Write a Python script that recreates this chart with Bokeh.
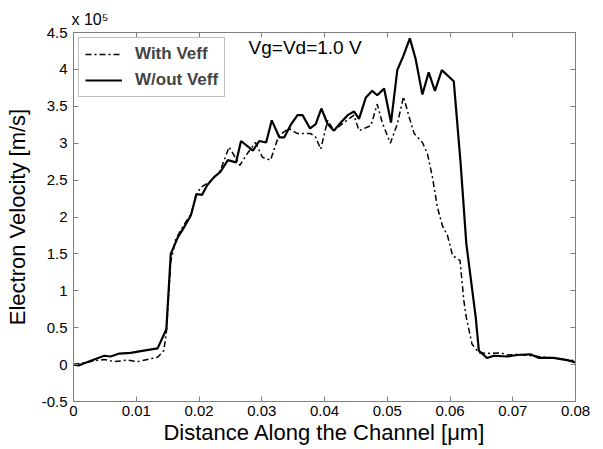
from bokeh.plotting import figure
from bokeh.models import Range1d, LinearAxis, FixedTicker, Label, Legend, LegendItem
from bokeh.embed import file_html
from bokeh.resources import INLINE

# Distance along channel (um) and velocity (x1e5 m/s)
x_without = [0, 0.0009, 0.0033, 0.0049, 0.0059, 0.0073, 0.0091, 0.0112, 0.0134, 0.0148,
             0.0155, 0.0166, 0.0176, 0.0187, 0.0196, 0.0205, 0.0213, 0.0224, 0.0234, 0.0246,
             0.0259, 0.0267, 0.0286, 0.0296, 0.0307, 0.0316, 0.0328, 0.0336, 0.0347, 0.0357,
             0.0365, 0.0377, 0.0386, 0.0395, 0.0405, 0.0415, 0.0426, 0.0437, 0.0447, 0.0455,
             0.0466, 0.0476, 0.0484, 0.0495, 0.0506, 0.0516, 0.0526, 0.0536, 0.0545, 0.0556,
             0.0566, 0.0576, 0.0587, 0.0606, 0.0617, 0.0626, 0.0641, 0.0646, 0.0659, 0.0670,
             0.0691, 0.0707, 0.0728, 0.0742, 0.0765, 0.0787, 0.0800]
v_without = [0, -0.01, 0.07, 0.12, 0.11, 0.15, 0.16, 0.19, 0.22, 0.48,
             1.50, 1.72, 1.86, 2.02, 2.31, 2.30, 2.43, 2.54, 2.61, 2.77,
             2.74, 3.03, 2.90, 3.03, 3.01, 3.31, 3.08, 3.08, 3.26, 3.38,
             3.38, 3.20, 3.26, 3.47, 3.26, 3.17, 3.28, 3.38, 3.43, 3.33,
             3.62, 3.71, 3.65, 3.74, 3.28, 3.99, 4.19, 4.42, 4.15, 3.66,
             3.96, 3.71, 3.99, 3.84, 2.72, 1.64, 0.64, 0.19, 0.09, 0.12,
             0.11, 0.13, 0.14, 0.09, 0.09, 0.06, 0.03]

x_with = [0, 0.0033, 0.0049, 0.0065, 0.0086, 0.0102, 0.0118, 0.0134, 0.0144, 0.0148,
          0.0155, 0.0163, 0.0175, 0.0188, 0.0195, 0.0203, 0.0219, 0.0234, 0.0248, 0.0265,
          0.0277, 0.0290, 0.0301, 0.0314, 0.0327, 0.0343, 0.0357, 0.0378, 0.0386, 0.0394,
          0.0405, 0.0415, 0.0431, 0.0447, 0.0455, 0.0474, 0.0484, 0.0492, 0.0505, 0.0516,
          0.0526, 0.0535, 0.0543, 0.0556, 0.0564, 0.0572, 0.0580, 0.0588, 0.0596, 0.0604,
          0.0616, 0.0622, 0.0626, 0.0635, 0.0646, 0.0665, 0.0681, 0.0691, 0.0710, 0.0730,
          0.0765, 0.0800]
v_with = [0, 0.05, 0.07, 0.04, 0.06, 0.04, 0.07, 0.10, 0.19, 0.44,
          1.40, 1.70, 1.88, 2.05, 2.30, 2.40, 2.49, 2.63, 2.95, 2.70,
          2.86, 3.01, 2.81, 2.77, 3.10, 3.20, 3.13, 3.13, 3.08, 2.92,
          3.31, 3.17, 3.28, 3.38, 3.17, 3.24, 3.53, 3.28, 3.00, 3.26,
          3.63, 3.35, 3.13, 3.01, 2.86, 2.54, 2.13, 1.88, 1.75, 1.48,
          1.41, 0.87, 0.64, 0.28, 0.16, 0.15, 0.16, 0.13, 0.14, 0.12,
          0.09, 0.05]

x_ticks = [0, 0.01, 0.02, 0.03, 0.04, 0.05, 0.06, 0.07, 0.08]
x_tick_labels = ["0", "0.01", "0.02", "0.03", "0.04", "0.05", "0.06", "0.07", "0.08"]
y_ticks = [-0.5, 0, 0.5, 1, 1.5, 2, 2.5, 3, 3.5, 4, 4.5]
y_tick_labels = ["-0.5", "0", "0.5", "1", "1.5", "2", "2.5", "3", "3.5", "4", "4.5"]
multiplier_text = "x 10\u2075"

FONT = "Liberation Sans"
GRAY = "#808080"

p = figure(width=603, height=449, output_backend="svg", toolbar_location=None,
           x_range=Range1d(0, 0.08), y_range=Range1d(-0.5, 4.5),
           min_border_left=73, min_border_right=28, min_border_top=32, min_border_bottom=48)
p.background_fill_color = "white"
p.border_fill_color = "white"
p.grid.visible = False
p.outline_line_color = GRAY

p.title.text = multiplier_text
p.title.align = "left"
p.title.text_font = FONT
p.title.text_font_size = "16px"
p.title.text_font_style = "normal"
p.title.text_color = "black"
p.title.offset = -2
p.title.standoff = 10

for ax in (p.xaxis[0], p.yaxis[0]):
    ax.major_tick_in = 5
    ax.major_tick_out = 0
    ax.minor_tick_line_color = None
    ax.axis_line_color = GRAY
    ax.major_tick_line_color = GRAY
    ax.major_label_text_font = FONT
    ax.major_label_text_font_size = "15px"
    ax.major_label_text_color = "black"
    ax.axis_label_text_font = FONT
    ax.axis_label_text_font_size = "22px"
    ax.axis_label_text_font_style = "normal"
    ax.axis_label_text_color = "black"

p.xaxis[0].ticker = FixedTicker(ticks=x_ticks)
p.xaxis[0].major_label_overrides = dict(zip(x_ticks, x_tick_labels))
p.xaxis[0].axis_label = "Distance Along the Channel [\u03bcm]"
p.xaxis[0].major_label_standoff = 4
p.xaxis[0].axis_label_standoff = 1

p.yaxis[0].ticker = FixedTicker(ticks=y_ticks)
p.yaxis[0].major_label_overrides = dict(zip(y_ticks, y_tick_labels))
p.yaxis[0].axis_label = "Electron Velocity [m/s]"
p.yaxis[0].major_label_standoff = 6
p.yaxis[0].axis_label_standoff = 9

top = LinearAxis(ticker=FixedTicker(ticks=x_ticks),
                 major_label_overrides={t: "" for t in x_ticks},
                 major_label_standoff=0, major_label_text_font_size="8px",
                 major_tick_in=5, major_tick_out=0, minor_tick_line_color=None,
                 axis_line_color=GRAY, major_tick_line_color=GRAY)
right = LinearAxis(ticker=FixedTicker(ticks=y_ticks),
                   major_label_overrides={t: "" for t in y_ticks},
                   major_tick_in=5, major_tick_out=0, minor_tick_line_color=None,
                   axis_line_color=GRAY, major_tick_line_color=GRAY)
p.add_layout(top, "above")
p.add_layout(right, "right")

r_with = p.line(x_with, v_with, line_color="black", line_width=1.5, line_dash="6 3 2 3")
r_without = p.line(x_without, v_without, line_color="black", line_width=2.2)

legend = Legend(items=[LegendItem(label="With Veff", renderers=[r_with]),
                       LegendItem(label="W/out Veff", renderers=[r_without])],
                location="top_left")
legend.label_text_font = FONT
legend.label_text_font_size = "17px"
legend.label_text_font_style = "bold"
legend.glyph_width = 37
legend.glyph_height = 14
legend.label_height = 14
legend.label_standoff = 13
legend.spacing = 6
legend.padding = 6
legend.margin = 5
legend.border_line_color = GRAY
legend.background_fill_alpha = 1
p.add_layout(legend)

p.add_layout(Label(x=0.0279, y=4.30, text="Vg=Vd=1.0 V", text_font=FONT, text_font_size="19px",
                   text_baseline="middle", text_color="black"))

open("out.html", "w").write(file_html(p, INLINE))
